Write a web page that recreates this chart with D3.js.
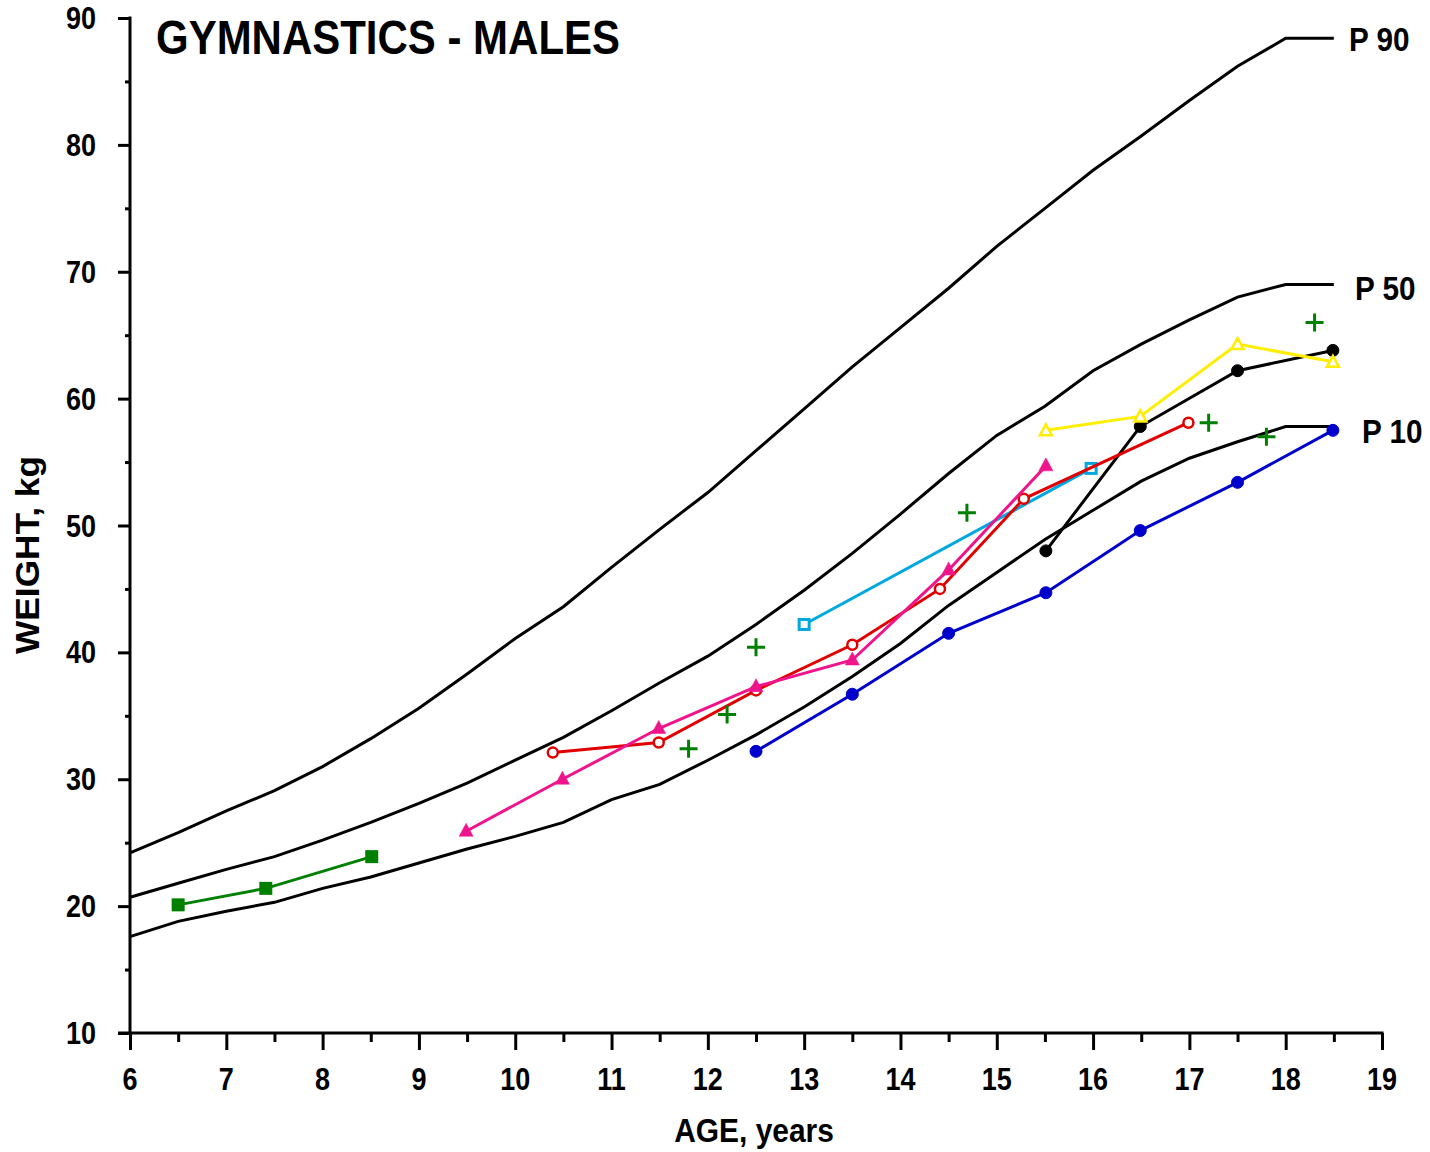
<!DOCTYPE html>
<html>
<head>
<meta charset="utf-8">
<title>Gymnastics - Males</title>
<script src="https://d3js.org/d3.v7.min.js"></script>
<style>
	body { margin: 0; background: #fff; }
	svg { display: block; }
	text { font-family: "Liberation Sans", Arial, sans-serif; font-weight: bold; fill: #000; }
</style>
</head>
<body>
<script>
// percentile curves, ages 6 to 18.5 in half years
var pAges = [6, 6.5, 7, 7.5, 8, 8.5, 9, 9.5, 10, 10.5, 11, 11.5, 12, 12.5, 13, 13.5, 14, 14.5, 15, 15.5, 16, 16.5, 17, 17.5, 18, 18.5];
var p90 = [24.2, 25.8, 27.5, 29.1, 31.0, 33.2, 35.6, 38.3, 41.1, 43.6, 46.7, 49.7, 52.6, 55.9, 59.2, 62.5, 65.6, 68.7, 72.0, 75.0, 78.0, 80.7, 83.5, 86.2, 88.4, 88.4];
var p50 = [20.7, 21.8, 22.9, 23.9, 25.2, 26.6, 28.1, 29.7, 31.5, 33.3, 35.4, 37.6, 39.7, 42.2, 44.9, 47.8, 50.9, 54.1, 57.1, 59.4, 62.2, 64.3, 66.2, 68.0, 69.0, 69.0];
var p10 = [17.6, 18.8, 19.6, 20.3, 21.4, 22.3, 23.4, 24.5, 25.5, 26.6, 28.4, 29.6, 31.5, 33.5, 35.7, 38.1, 40.7, 43.7, 46.3, 48.9, 51.2, 53.5, 55.3, 56.6, 57.8, 57.8];
var pNames = ["P 90", "P 50", "P 10"];

// individual gymnasts
var greenAge = [6.5, 7.41, 8.51];
var greenWt = [20.1, 21.4, 23.9];
var pinkAge = [9.49, 10.49, 11.49, 12.5, 13.5, 14.5, 15.51];
var pinkWt = [25.9, 30.0, 34.0, 37.3, 39.4, 46.5, 54.7];
var redAge = [10.39, 11.49, 12.5, 13.5, 14.41, 15.28, 16.99];
var redWt = [32.1, 32.9, 37.0, 40.6, 45.0, 52.1, 58.1];
var cyanAge = [13.0, 15.98];
var cyanWt = [42.2, 54.5];
var blackAge = [15.51, 16.49, 17.5, 18.49];
var blackWt = [48.0, 57.8, 62.2, 63.8];
var yellowAge = [15.51, 16.49, 17.5, 18.49];
var yellowWt = [57.5, 58.6, 64.3, 62.9];
var blueAge = [12.5, 13.5, 14.5, 15.51, 16.49, 17.5, 18.49];
var blueWt = [32.2, 36.7, 41.5, 44.7, 49.6, 53.4, 57.5];
// single measurements, no line
var plusAge = [11.8, 12.2, 12.5, 14.69, 17.2, 17.8, 18.3];
var plusWt = [32.4, 35.1, 40.4, 51.0, 58.1, 57.0, 66.0];

var xTicks = [6, 7, 8, 9, 10, 11, 12, 13, 14, 15, 16, 17, 18, 19];
var yTicks = [10, 20, 30, 40, 50, 60, 70, 80, 90];

var width = 1430, height = 1152;
var svg = d3.select("body").append("svg")
	.attr("width", width)
	.attr("height", height);

var x = d3.scaleLinear().domain([6, 19]).range([130, 1382]);
var y = d3.scaleLinear().domain([10, 90]).range([1033, 18]);

function zip(a, b) { return a.map(function(v, i) { return [v, b[i]]; }); }
var line = d3.line().x(function(d) { return x(d[0]); }).y(function(d) { return y(d[1]); });

// narrow bold text, squeezed horizontally like Arial Narrow
function narrow(sel, px, py, size, sx) {
	return sel.attr("transform", "translate(" + px + "," + py + ") scale(" + sx + ",1)")
		.style("font-size", size + "px");
}

// AXES
var xAxis = d3.axisBottom(x).tickValues(d3.range(6, 19.01, 0.5))
	.tickSize(0).tickFormat("");
var gx = svg.append("g").attr("transform", "translate(0," + y(10) + ")").call(xAxis);
gx.select(".domain").remove();
gx.selectAll(".tick line").attr("y2", function(d) { return d % 1 == 0 ? 17 : 9; })
	.attr("stroke", "#000").attr("stroke-width", 3);
svg.append("line").attr("x1", 118).attr("x2", x(19) + 1.5)
	.attr("y1", y(10)).attr("y2", y(10)).attr("stroke", "#000").attr("stroke-width", 3);
svg.selectAll(".xlab").data(xTicks).enter().append("text")
	.attr("text-anchor", "middle")
	.each(function(d) { narrow(d3.select(this), x(d), 1090, 31, 0.87); })
	.text(function(d) { return d; });

var yAxis = d3.axisLeft(y).tickValues(d3.range(10, 90.01, 5)).tickSize(0).tickFormat("");
var gy = svg.append("g").attr("transform", "translate(" + x(6) + ",0)").call(yAxis);
gy.select(".domain").remove();
gy.selectAll(".tick line").attr("x2", function(d) { return d % 10 == 0 ? -12 : -5; })
	.attr("stroke", "#000").attr("stroke-width", 3);
svg.append("line").attr("x1", x(6)).attr("x2", x(6))
	.attr("y1", y(90) - 1.5).attr("y2", y(10)).attr("stroke", "#000").attr("stroke-width", 3);
svg.selectAll(".ylab").data(yTicks).enter().append("text")
	.attr("text-anchor", "end")
	.each(function(d) { narrow(d3.select(this), 96, y(d) + 11, 31, 0.87); })
	.text(function(d) { return d; });

narrow(svg.append("text").attr("text-anchor", "middle"), 754, 1142, 34, 0.88).text("AGE, years");
svg.append("text").attr("transform", "translate(39,555) rotate(-90)").attr("text-anchor", "middle")
	.attr("textLength", 198).attr("lengthAdjust", "spacingAndGlyphs")
	.style("font-size", "34px").text("WEIGHT, kg");
svg.append("text").attr("x", 156).attr("y", 54).style("font-size", "48px")
	.attr("textLength", 464).attr("lengthAdjust", "spacingAndGlyphs")
	.text("GYMNASTICS - MALES");

// PERCENTILE CURVES
var labX = [1349, 1355, 1362];
[p90, p50, p10].forEach(function(p, i) {
	svg.append("path").datum(zip(pAges, p)).attr("d", line)
		.attr("fill", "none").attr("stroke", "#000").attr("stroke-width", 3);
	narrow(svg.append("text"), labX[i], y(p[p.length - 1]) + 13 + (i > 0 ? 3 : 0), 33, 0.9)
		.text(pNames[i]);
});

// SERIES
var series = [
	{age: greenAge, wt: greenWt, color: "#008000", shape: "square", fill: true},
	{age: blueAge, wt: blueWt, color: "#0000cc", shape: "circle", fill: true},
	{age: blackAge, wt: blackWt, color: "#000000", shape: "circle", fill: true},
	{age: yellowAge, wt: yellowWt, color: "#ffee00", shape: "triangle", fill: false},
	{age: cyanAge, wt: cyanWt, color: "#00a8e0", shape: "square", fill: false},
	{age: redAge, wt: redWt, color: "#e00000", shape: "circle", fill: false},
	{age: pinkAge, wt: pinkWt, color: "#f0148c", shape: "triangle", fill: true}
];

function marker(g, shape, fill, color) {
	if (shape == "circle") {
		g.append("circle").attr("r", fill ? 6 : 5)
			.attr("fill", fill ? color : "#fff").attr("stroke", color).attr("stroke-width", fill ? 1 : 2.5);
	} else if (shape == "square") {
		var s = fill ? 13 : 10;
		g.append("rect").attr("x", -s / 2).attr("y", -s / 2).attr("width", s).attr("height", s)
			.attr("fill", fill ? color : "#fff").attr("stroke", color).attr("stroke-width", fill ? 0 : 3);
	} else {
		g.append("path").attr("d", fill ? "M0,-8L7,5L-7,5Z" : "M0,-6L6,5L-6,5Z")
			.attr("fill", fill ? color : "#fff").attr("stroke", color).attr("stroke-width", fill ? 0.5 : 2.5);
	}
}

series.forEach(function(s) {
	var pts = zip(s.age, s.wt);
	svg.append("path").datum(pts).attr("d", line)
		.attr("fill", "none").attr("stroke", s.color).attr("stroke-width", 3);
	svg.selectAll(null).data(pts).enter().append("g")
		.attr("transform", function(d) { return "translate(" + x(d[0]) + "," + y(d[1]) + ")"; })
		.each(function() { marker(d3.select(this), s.shape, s.fill, s.color); });
});

svg.selectAll(".plus").data(zip(plusAge, plusWt)).enter().append("path")
	.attr("transform", function(d) { return "translate(" + x(d[0]) + "," + y(d[1]) + ")"; })
	.attr("d", "M-9,0H9M0,-9V9").attr("stroke", "#008000").attr("stroke-width", 3);
</script>
</body>
</html>
